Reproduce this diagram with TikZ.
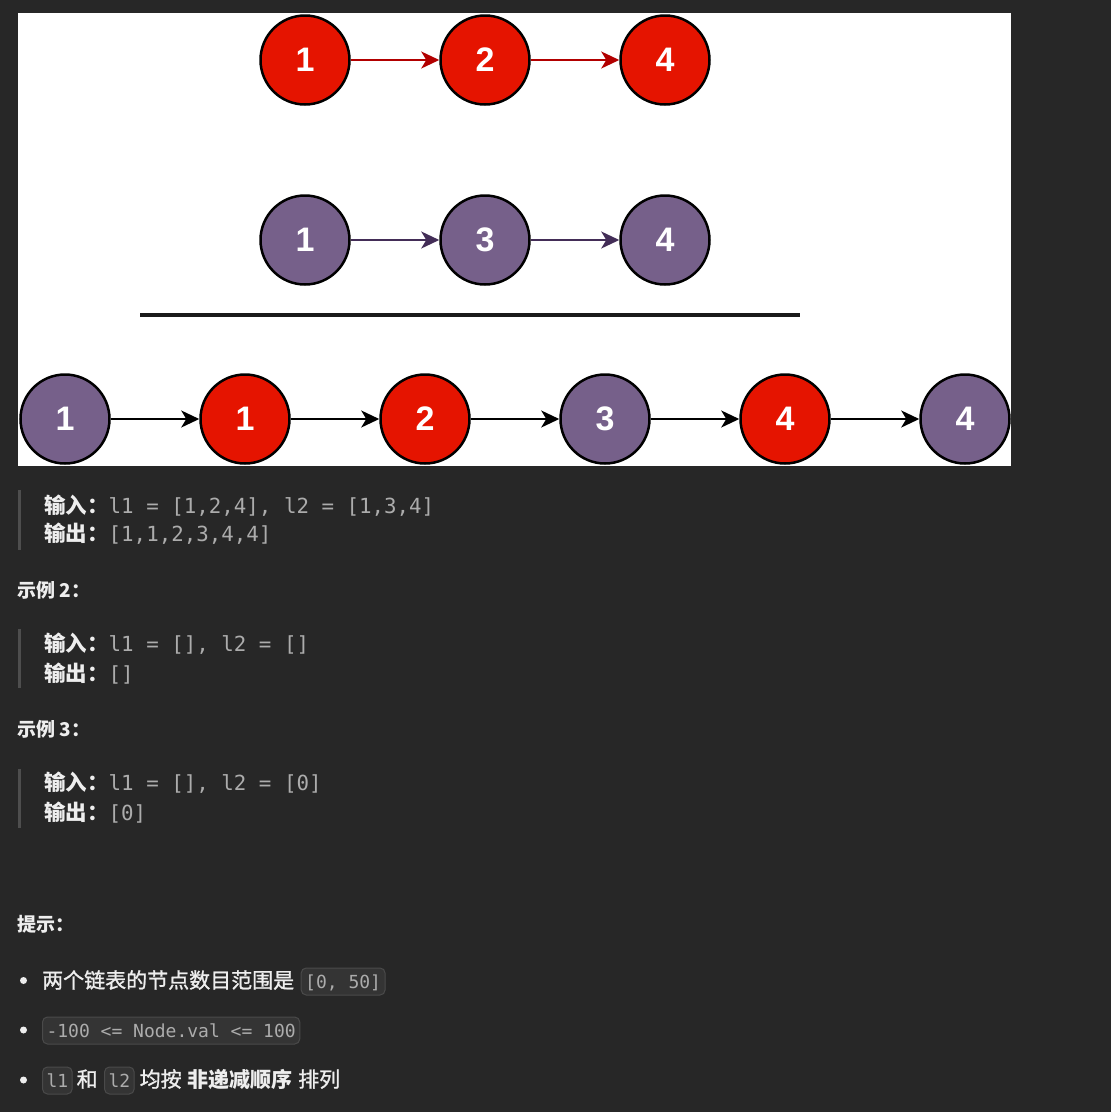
\documentclass[tikz,border=0pt]{standalone}
\usepackage{fontspec}
\setmainfont{Liberation Sans}
\setmonofont{DejaVu Sans Mono}
\newfontfamily\cjk{Noto Sans CJK SC}
\newfontfamily\cjkm[FakeBold=1.2]{Noto Sans CJK SC}
\usetikzlibrary{arrows.meta}
\definecolor{bg}{RGB}{39,39,39}
\definecolor{nred}{HTML}{E51400}
\definecolor{npur}{HTML}{76608A}
\definecolor{ared}{HTML}{B20000}
\definecolor{apur}{HTML}{432D57}
\definecolor{rule}{RGB}{26,26,26}
\definecolor{lab}{RGB}{238,238,238}
\definecolor{cod}{RGB}{172,172,172}
\definecolor{barc}{RGB}{78,78,78}
\definecolor{cfill}{RGB}{52,52,52}
\definecolor{cbord}{RGB}{74,74,74}
\newcommand\mylab[1]{{\color{lab}\cjk\bfseries\fontsize{21.5}{26}\selectfont #1}}
\newcommand\mycod[1]{{\color{cod}\ttfamily\fontsize{20.8}{26}\selectfont #1}}
\newcommand\myhead[1]{{\color{lab}\cjk\bfseries\fontsize{19}{24}\selectfont #1}}
\newcommand\mybody[1]{{\color{lab}\cjkm\fontsize{21}{26}\selectfont #1}}
\newcommand\mybodyb[1]{{\color{lab}\cjk\bfseries\fontsize{21}{26}\selectfont #1}}
\begin{document}
\begin{tikzpicture}[x=1pt,y=-1pt,
  ll/.style={circle, draw=black, line width=2.5pt, minimum size=89pt, inner sep=0pt,
    font=\fontsize{34}{40}\selectfont\bfseries, text=white},
  rednode/.style={ll, fill=nred},
  purnode/.style={ll, fill=npur},
  lnk/.style={line width=2pt, -{Stealth[length=18pt,width=17pt,inset=5pt]}},
  txt/.style={inner sep=0pt, anchor=base west},
  cbox/.style={txt, draw=cbord, fill=cfill, rounded corners=5pt, line width=1pt,
    inner xsep=4pt, inner ysep=0pt, text height=20pt, text depth=7pt,
    font=\ttfamily\fontsize{18}{20}\selectfont, text=cod},
  bar/.style={barc, line width=3pt}
]
\useasboundingbox (0,0) rectangle (1111,1112);
\fill[bg] (0,0) rectangle (1111,1112);
\fill[white] (17.5,12.7) rectangle (1010.7,466);

% top list
\node[rednode] (a1) at (305,60) {1};
\node[rednode] (a2) at (485,60) {2};
\node[rednode] (a3) at (665,60) {4};
\draw[lnk, ared] (a1) -- (a2);
\draw[lnk, ared] (a2) -- (a3);

% second list
\node[purnode] (b1) at (305,240) {1};
\node[purnode] (b2) at (485,240) {3};
\node[purnode] (b3) at (665,240) {4};
\draw[lnk, apur] (b1) -- (b2);
\draw[lnk, apur] (b2) -- (b3);

\draw[rule, line width=3.5pt] (140,315) -- (800,315);

% merged list
\node[purnode] (c1) at (65,419) {1};
\node[rednode] (c2) at (245,419) {1};
\node[rednode] (c3) at (425,419) {2};
\node[purnode] (c4) at (605,419) {3};
\node[rednode] (c5) at (785,419) {4};
\node[purnode] (c6) at (965,419) {4};
\draw[lnk, black] (c1) -- (c2);
\draw[lnk, black] (c2) -- (c3);
\draw[lnk, black] (c3) -- (c4);
\draw[lnk, black] (c4) -- (c5);
\draw[lnk, black] (c5) -- (c6);

% example 1 block
\draw[bar] (19.5,490) -- (19.5,550);
\node[txt] (e1i) at (44,513) {\mylab{输入：}\mycod{l1 = [1,2,4], l2 = [1,3,4]}};
\node[txt] (e1o) at (44,541) {\mylab{输出：}\mycod{[1,1,2,3,4,4]}};

\node[txt] (h2) at (17,597) {\myhead{示例 2：}};
\draw[bar] (19.5,629) -- (19.5,688);
\node[txt] (e2i) at (44,651) {\mylab{输入：}\mycod{l1 = [], l2 = []}};
\node[txt] (e2o) at (44,681) {\mylab{输出：}\mycod{[]}};

\node[txt] (h3) at (17,736) {\myhead{示例 3：}};
\draw[bar] (19.5,769) -- (19.5,828);
\node[txt] (e3i) at (44,790) {\mylab{输入：}\mycod{l1 = [], l2 = [0]}};
\node[txt] (e3o) at (44,820) {\mylab{输出：}\mycod{[0]}};

\node[txt] (h4) at (17,931) {\myhead{提示：}};

\fill[lab] (23.5,980.5) circle (3.5);
\node[txt] (t1) at (42,988) {\mybody{两个链表的节点数目范围是}};
\node[cbox] (t1c) at (300.7,988) {[0, 50]};

\fill[lab] (23.5,1030) circle (3.5);
\node[cbox] (t2c) at (42,1037) {-100 <= Node.val <= 100};

\fill[lab] (23.5,1080) circle (3.5);
\node[cbox] (t3a) at (42,1087) {l1};
\node[txt] (t3b) at (76.5,1087) {\mybody{和}};
\node[cbox] (t3c) at (104,1087) {l2};
\node[txt] (t3d) at (139.5,1087) {\mybody{均按}};
\node[txt] (t3e) at (187,1087) {\mybodyb{非递减顺序}};
\node[txt] (t3f) at (298,1087) {\mybody{排列}};
\end{tikzpicture}
\end{document}
